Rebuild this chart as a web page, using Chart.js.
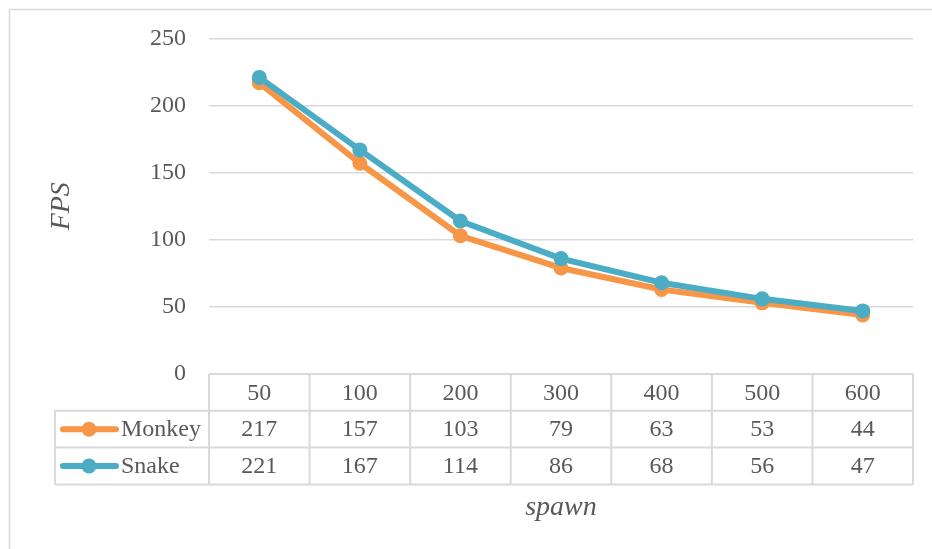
<!DOCTYPE html>
<html>
<head>
<meta charset="utf-8">
<script src="https://cdn.jsdelivr.net/npm/chart.js@4.4.1/dist/chart.umd.min.js"></script>
<style>
  html, body { margin: 0; padding: 0; background: #fff; }
  #wrap { width: 932px; height: 549px; position: relative; }
</style>
</head>
<body>
<div id="wrap"><canvas id="c" width="932" height="549"></canvas></div>
<script>
// Spawn counts and measured frame rates
const spawnCounts = ['50', '100', '200', '300', '400', '500', '600'];
const monkeyFps = [217, 157, 103, 79, 63, 53, 44];
const snakeFps = [221, 167, 114, 86, 68, 56, 47];
const yTicks = [0, 50, 100, 150, 200, 250];

const TEXT = '#595959';
const RULE = '#d9d9d9';
const ORANGE = '#F79646';
const BLUE = '#4BACC6';
const SERIF = '"Liberation Serif", "DejaVu Serif", serif';

const series = [
  { name: 'Monkey', values: monkeyFps, color: ORANGE },
  { name: 'Snake', values: snakeFps, color: BLUE }
];

// Frame around the chart and the data table under the plot
const tablePlugin = {
  id: 'dataTable',
  beforeDraw(chart) {
    const ctx = chart.ctx;
    ctx.save();
    ctx.fillStyle = '#fff';
    ctx.fillRect(0, 0, chart.width, chart.height);
    ctx.strokeStyle = RULE;
    ctx.lineWidth = 1.5;
    ctx.beginPath();
    ctx.moveTo(932, 9.5);
    ctx.lineTo(9.5, 9.5);
    ctx.lineTo(9.5, 549);
    ctx.stroke();
    ctx.restore();
  },
  afterDraw(chart) {
    const ctx = chart.ctx;
    const x = chart.scales.x;
    const area = chart.chartArea;
    const n = spawnCounts.length;
    const colW = (area.right - area.left) / n;
    const top = area.bottom;
    const rowH = 36.8;
    const legendLeft = 55;
    const rows = [top, top + rowH, top + 2 * rowH, top + 3 * rowH];

    ctx.save();
    ctx.strokeStyle = RULE;
    ctx.lineWidth = 2;
    ctx.beginPath();
    // horizontal rules
    ctx.moveTo(area.left, rows[0]); ctx.lineTo(area.right, rows[0]);
    for (let r = 1; r < 4; r++) {
      ctx.moveTo(legendLeft, rows[r]); ctx.lineTo(area.right, rows[r]);
    }
    // vertical rules
    ctx.moveTo(legendLeft, rows[1]); ctx.lineTo(legendLeft, rows[3]);
    for (let i = 0; i <= n; i++) {
      const px = area.left + i * colW;
      ctx.moveTo(px, rows[0]); ctx.lineTo(px, rows[3]);
    }
    ctx.stroke();

    ctx.fillStyle = TEXT;
    ctx.font = '24px ' + SERIF;
    ctx.textAlign = 'center';
    ctx.textBaseline = 'middle';
    spawnCounts.forEach((lab, i) => {
      ctx.fillText(lab, x.getPixelForValue(i), (rows[0] + rows[1]) / 2 + 1);
    });
    series.forEach((s, r) => {
      const cy = (rows[r + 1] + rows[r + 2]) / 2 + 1;
      s.values.forEach((v, i) => {
        ctx.fillText(String(v), x.getPixelForValue(i), cy);
      });
      // legend key
      ctx.strokeStyle = s.color;
      ctx.lineWidth = 6;
      ctx.lineCap = 'round';
      ctx.beginPath();
      ctx.moveTo(63, cy - 1); ctx.lineTo(116, cy - 1);
      ctx.stroke();
      ctx.fillStyle = s.color;
      ctx.beginPath();
      ctx.arc(89, cy - 1, 7.5, 0, Math.PI * 2);
      ctx.fill();
      ctx.fillStyle = TEXT;
      ctx.textAlign = 'left';
      ctx.fillText(s.name, 121, cy);
      ctx.textAlign = 'center';
    });
    ctx.restore();
  }
};

new Chart(document.getElementById('c'), {
  type: 'line',
  data: {
    labels: spawnCounts,
    datasets: series.map((s, i) => ({
      label: s.name,
      data: s.values,
      borderColor: s.color,
      backgroundColor: s.color,
      pointBackgroundColor: s.color,
      pointBorderColor: s.color,
      borderWidth: 6,
      pointRadius: 7.5,
      pointBorderWidth: 0,
      tension: 0,
      order: series.length - i
    }))
  },
  options: {
    responsive: false,
    animation: false,
    devicePixelRatio: 1,
    layout: { padding: { left: 0, right: 19, top: 38.5, bottom: 0 } },
    plugins: { legend: { display: false }, tooltip: { enabled: false } },
    scales: {
      x: {
        type: 'category',
        offset: true,
        grid: { display: false },
        border: { display: false },
        ticks: { display: false },
        title: {
          display: true,
          text: 'spawn',
          color: TEXT,
          font: { family: SERIF, size: 28, style: 'italic' },
          padding: { top: 0, bottom: 25 }
        },
        afterFit(scale) { scale.height = 175; }
      },
      y: {
        min: 0,
        max: 250,
        afterBuildTicks(scale) { scale.ticks = yTicks.map(v => ({ value: v })); },
        grid: { color: RULE, lineWidth: 1.5, drawTicks: false },
        border: { display: false },
        ticks: {
          color: TEXT,
          font: { family: SERIF, size: 24 },
          padding: 23
        },
        title: {
          display: true,
          text: 'FPS',
          color: TEXT,
          font: { family: SERIF, size: 28, style: 'italic' },
          padding: { top: 45, bottom: 0 }
        },
        afterFit(scale) { scale.width = 209; }
      }
    }
  },
  plugins: [tablePlugin]
});
</script>
</body>
</html>
